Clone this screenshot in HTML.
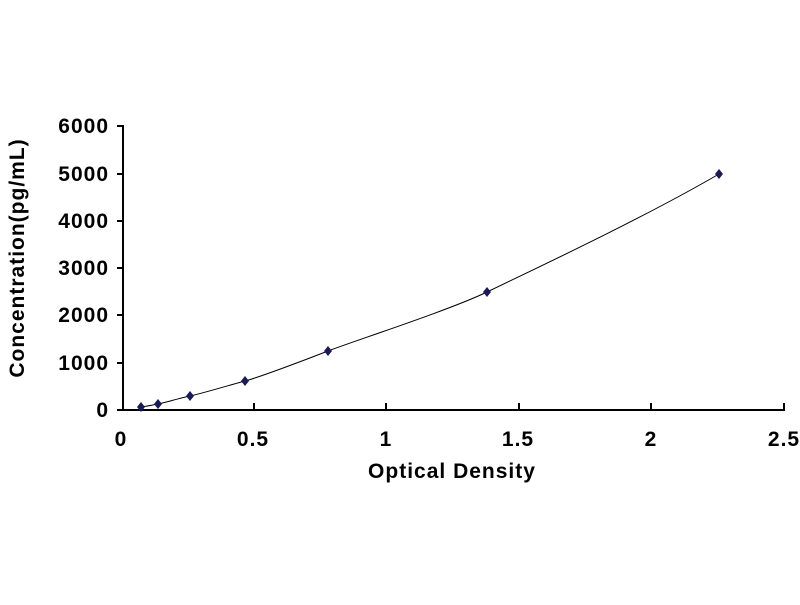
<!DOCTYPE html>
<html><head><style>body{margin:0;background:#fff}</style></head><body>
<svg width="800" height="600" xmlns="http://www.w3.org/2000/svg" font-family="Liberation Sans, Arial, sans-serif" font-weight="bold">
<rect width="800" height="600" fill="#fff"/>
<g stroke="#000" stroke-width="2">
<line x1="123" y1="125" x2="123" y2="411"/>
<line x1="122" y1="410" x2="785" y2="410"/>
<line x1="117" y1="126" x2="123" y2="126"/>
<line x1="117" y1="174" x2="123" y2="174"/>
<line x1="117" y1="221" x2="123" y2="221"/>
<line x1="117" y1="268" x2="123" y2="268"/>
<line x1="117" y1="315" x2="123" y2="315"/>
<line x1="117" y1="363" x2="123" y2="363"/>
<line x1="117" y1="410" x2="123" y2="410"/>
<line x1="254" y1="403" x2="254" y2="410"/>
<line x1="386" y1="403" x2="386" y2="410"/>
<line x1="519" y1="403" x2="519" y2="410"/>
<line x1="651" y1="403" x2="651" y2="410"/>
<line x1="784" y1="403" x2="784" y2="410"/>
</g>
<g font-size="21" text-anchor="end" letter-spacing="1">
<text x="109" y="133">6000</text>
<text x="109" y="181">5000</text>
<text x="109" y="228">4000</text>
<text x="109" y="275">3000</text>
<text x="109" y="322">2000</text>
<text x="109" y="370">1000</text>
<text x="109" y="417">0</text>
</g>
<g font-size="21" text-anchor="middle" letter-spacing="1">
<text x="121" y="446">0</text>
<text x="253" y="446">0.5</text>
<text x="386" y="446">1</text>
<text x="518" y="446">1.5</text>
<text x="651" y="446">2</text>
<text x="784" y="446">2.5</text>
<text x="452" y="478">Optical Density</text>
<text transform="translate(24,258) rotate(-90)">Concentration(pg/mL)</text>
</g>
<path d="M141,407 C148,406 152,405 158,404 S180,398 190,396 S230,385 245,381 S305,360 328,351 S450,310 487,292 S640,220 719,174" fill="none" stroke="#000" stroke-width="1"/>
<g fill="#1a1a5a">
<polygon points="141,402 145,407 141,412 137,407"/>
<polygon points="158,399 162,404 158,409 154,404"/>
<polygon points="190,391 194,396 190,401 186,396"/>
<polygon points="245,376 249,381 245,386 241,381"/>
<polygon points="328,346 332,351 328,356 324,351"/>
<polygon points="487,287 491,292 487,297 483,292"/>
<polygon points="719,169 723,174 719,179 715,174"/>
</g>
</svg>
</body></html>
